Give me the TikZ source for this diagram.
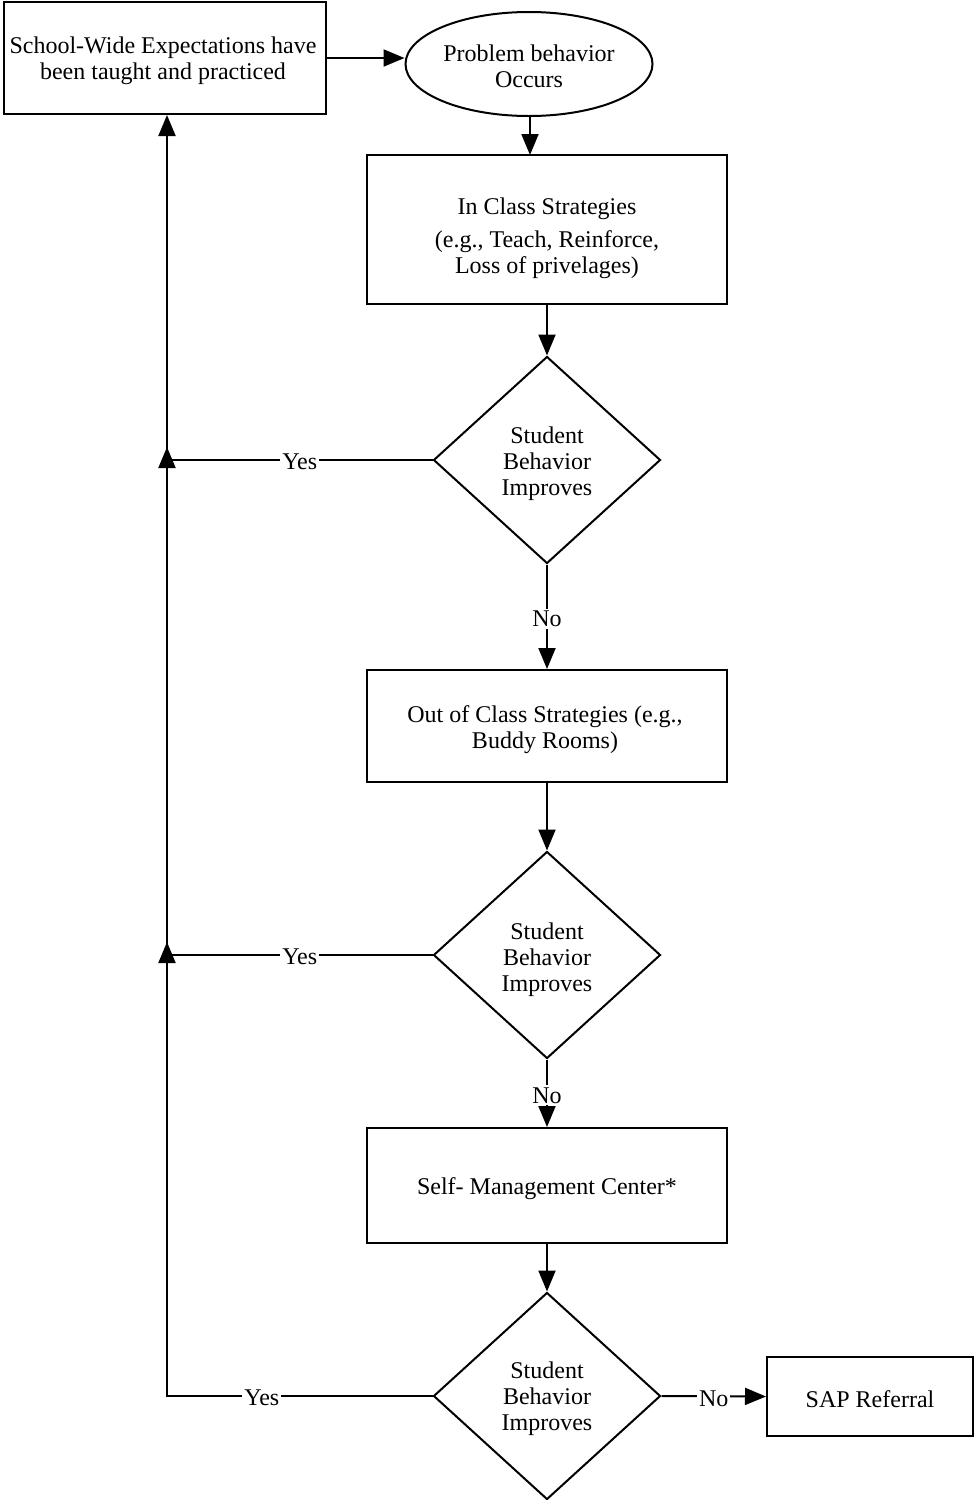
\documentclass[tikz,border=0pt]{standalone}
\usepackage{fontspec}
\setmainfont{Liberation Serif}
\usetikzlibrary{shapes.geometric,arrows.meta}
\begin{document}
\begin{tikzpicture}[x=1pt,y=-1pt,
  every node/.style={font=\fontsize{24}{26}\selectfont, align=center},
  boxnode/.style={draw, line width=2pt, rectangle, inner sep=0pt},
  ovalnode/.style={draw, line width=2pt, ellipse, inner sep=0pt, minimum width=247pt, minimum height=104pt},
  decnode/.style={draw, line width=2pt, diamond, inner sep=0pt, minimum width=227pt, minimum height=207pt},
  conn/.style={line width=2pt},
  arr/.style={conn, -{Triangle[length=21pt,width=17pt]}},
  lbl/.style={fill=white, inner sep=2pt}
]
\useasboundingbox (0,0) rectangle (975,1500);
\node[boxnode, minimum width=322pt, minimum height=112pt] (sw) at (165,58) {};
\node (swt) at (163,61) {School-Wide Expectations have\\been taught and practiced};
\node[ovalnode] (pb) at (529,64) {};
\node (pbt) at (529,66) {Problem behavior\\Occurs};
\node[boxnode, minimum width=360pt, minimum height=149pt] (ic) at (547,229.5) {};
\node (ict) at (547,238) {In Class Strategies\\[7pt](e.g., Teach, Reinforce,\\Loss of privelages)};
\node[decnode] (d1) at (547,460) {};
\node (d1t) at (547,464) {Student\\Behavior\\Improves};
\node[boxnode, minimum width=360pt, minimum height=112pt] (oc) at (547,726) {};
\node (oct) at (545,730) {Out of Class Strategies (e.g.,\\Buddy Rooms)};
\node[decnode] (d2) at (547,955) {};
\node (d2t) at (547,960) {Student\\Behavior\\Improves};
\node[boxnode, minimum width=360pt, minimum height=115pt] (sm) at (547,1185.5) {};
\node (smt) at (547,1189) {Self- Management Center*};
\node[decnode] (d3) at (547,1396) {};
\node (d3t) at (547,1399) {Student\\Behavior\\Improves};
\node[boxnode, minimum width=206pt, minimum height=79pt] (sap) at (870,1396.5) {};
\node (sapt) at (870,1399) {SAP Referral};
\coordinate (j1) at (167,460);
\coordinate (j2) at (167,955);
\coordinate (j3) at (167,1396);
\draw[arr] (sw.east) -- (pb.west |- sw.east);
\draw[arr] (pb.south -| 530,0) -- (530,155);
\draw[arr] (ic.south) -- (d1.north);
\draw[arr] (d1.south) -- node[lbl, pos=0.5, yshift=-2pt] {No} (oc.north);
\draw[arr] (oc.south) -- (d2.north);
\draw[arr] (d2.south) -- node[lbl, pos=0.5, yshift=-2pt] {No} (sm.north);
\draw[arr] (sm.south) -- (d3.north);
\draw[arr] (d3.east) -- node[lbl, pos=0.5, yshift=-2pt] {No} (sap.west);
\draw[conn] (d1.west) -- node[lbl, pos=0.5, yshift=-2pt] {Yes} (j1);
\draw[conn] (d2.west) -- node[lbl, pos=0.5, yshift=-2pt] {Yes} (j2);
\draw[arr] (d3.west) -- node[lbl, pos=0.643, yshift=-2pt] {Yes} (j3) -- ([yshift=13pt]j2);
\draw[arr] (j2) -- ([yshift=13pt]j1);
\draw[arr] (j1) -- (j1 |- sw.south);
\end{tikzpicture}
\end{document}
